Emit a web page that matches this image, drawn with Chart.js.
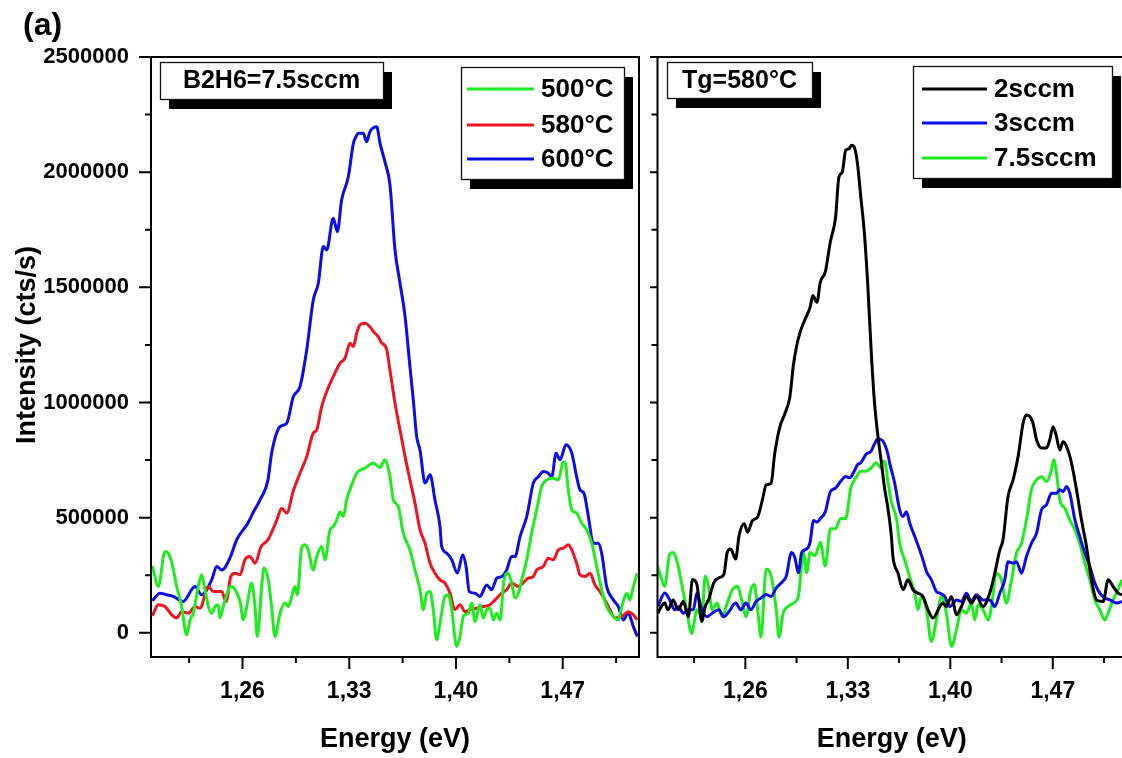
<!DOCTYPE html>
<html lang="en">
<head>
<meta charset="UTF-8">
<title>PL spectra</title>
<script src="https://cdn.jsdelivr.net/npm/chart.js"></script>
<style>
    html, body { margin: 0; padding: 0; background: #fff; overflow: hidden; }
    body { width: 1122px; height: 758px; position: relative; }
    #leftChart { position: absolute; left: 0; top: 0; }
    #rightChart { position: absolute; left: 650px; top: 0; }
</style>
</head>
<body>
<canvas id="leftChart" width="650" height="758"></canvas>
<canvas id="rightChart" width="480" height="758"></canvas>
<script>
// Axis ticks
var xMajor = [1.26, 1.33, 1.40, 1.47];
var xMajorLabels = ['1,26', '1,33', '1,40', '1,47'];
var xMinor = [1.225, 1.295, 1.365, 1.435, 1.505];
var yMajor = [0, 500000, 1000000, 1500000, 2000000, 2500000];
var yMajorLabels = ['0', '500000', '1000000', '1500000', '2000000', '2500000'];
var yMinor = [250000, 750000, 1250000, 1750000, 2250000];

// Left panel: B2H6 = 7.5 sccm, growth temperature series
var e500 = [1.2009,1.2048,1.2092,1.2113,1.2136,1.2169,1.2201,1.2234,1.2256,1.2277,1.231,1.2332,1.2354,1.2376,1.2398,1.242,1.2441,1.2452,1.2474,1.2507,1.2529,1.2551,1.2584,1.2605,1.2628,1.266,1.2682,1.2697,1.2726,1.2741,1.2769,1.2791,1.2813,1.2846,1.2879,1.29,1.2923,1.2944,1.296,1.2988,1.301,1.3031,1.3064,1.3087,1.3119,1.3141,1.3174,1.3195,1.3218,1.3239,1.3261,1.3283,1.3316,1.3349,1.3403,1.3458,1.3502,1.3534,1.3567,1.3589,1.3622,1.3654,1.3698,1.3731,1.3764,1.3786,1.3808,1.383,1.3851,1.3873,1.3895,1.3928,1.395,1.3972,1.4005,1.4026,1.4048,1.4081,1.4103,1.4125,1.4157,1.4179,1.4201,1.4223,1.4245,1.4267,1.4289,1.4315,1.4343,1.4365,1.4387,1.4409,1.4431,1.4464,1.4496,1.4529,1.4562,1.4595,1.4638,1.4671,1.47,1.4715,1.4736,1.4759,1.4791,1.4824,1.4857,1.489,1.4923,1.4955,1.4988,1.5032,1.5064,1.5087,1.512,1.5141,1.5163,1.5189];
var i500 = [291000,201000,353000,346000,306000,200000,114000,-9000,56000,85000,201000,252000,187000,114000,85000,114000,122000,64000,114000,187000,201000,187000,136000,56000,114000,216000,114000,-16000,201000,281000,230000,114000,-16000,85000,129000,114000,158000,201000,165000,369000,382000,360000,273000,331000,375000,317000,447000,461000,490000,526000,505000,577000,642000,693000,715000,737000,718000,751000,678000,577000,548000,433000,360000,273000,187000,100000,172000,179000,100000,-30000,42000,158000,165000,100000,-59000,-16000,71000,85000,129000,49000,122000,64000,100000,107000,56000,85000,56000,230000,259000,216000,151000,172000,230000,317000,433000,534000,635000,664000,671000,664000,737000,743000,621000,534000,520000,476000,447000,389000,288000,187000,114000,71000,56000,114000,172000,143000,201000,259000];

var e580 = [1.2009,1.2048,1.2092,1.2136,1.2169,1.2201,1.2245,1.2289,1.2321,1.2376,1.2409,1.2464,1.2492,1.2523,1.2551,1.2584,1.2616,1.2649,1.2682,1.2721,1.2767,1.2824,1.2857,1.289,1.2933,1.2977,1.3021,1.3064,1.3087,1.3119,1.3152,1.3195,1.3239,1.3272,1.3305,1.3327,1.3349,1.337,1.3403,1.3436,1.3458,1.349,1.3508,1.3546,1.3567,1.36,1.3633,1.3666,1.3698,1.3731,1.3764,1.3797,1.383,1.3862,1.3895,1.3928,1.3961,1.3993,1.4026,1.4059,1.4092,1.4136,1.4179,1.4223,1.4256,1.43,1.4332,1.4365,1.4409,1.4439,1.4474,1.4507,1.4529,1.4572,1.4605,1.4638,1.4671,1.4704,1.4736,1.4759,1.4791,1.4813,1.4846,1.4879,1.4911,1.4944,1.4977,1.501,1.5043,1.5087,1.513,1.5163,1.5189];
var i580 = [74000,122000,114000,78000,65000,92000,85000,114000,107000,201000,179000,179000,136000,244000,259000,252000,317000,331000,302000,373000,404000,488000,541000,520000,616000,693000,765000,867000,881000,982000,1047000,1112000,1170000,1192000,1257000,1243000,1301000,1337000,1344000,1329000,1308000,1286000,1263000,1228000,1141000,997000,881000,765000,664000,563000,447000,389000,302000,259000,230000,216000,172000,100000,122000,92000,100000,107000,114000,122000,143000,172000,187000,216000,201000,216000,237000,244000,273000,288000,324000,317000,360000,368000,382000,360000,302000,252000,244000,259000,208000,179000,143000,100000,64000,71000,92000,78000,56000];

var e600 = [1.2009,1.2059,1.2103,1.2146,1.221,1.2289,1.2332,1.2398,1.2431,1.2464,1.2518,1.2562,1.2636,1.2669,1.2715,1.2767,1.2791,1.2846,1.289,1.2933,1.2977,1.3021,1.3064,1.3097,1.313,1.3152,1.3195,1.3222,1.325,1.3294,1.3327,1.3344,1.3359,1.3392,1.3414,1.3436,1.348,1.3502,1.3534,1.3567,1.36,1.3633,1.3666,1.3698,1.372,1.3742,1.3764,1.3797,1.383,1.3862,1.3895,1.3906,1.3939,1.3972,1.4009,1.4044,1.4066,1.4087,1.4125,1.4157,1.4201,1.4234,1.4267,1.43,1.4332,1.4365,1.4387,1.442,1.4464,1.4507,1.454,1.4572,1.4605,1.4628,1.4656,1.4682,1.4721,1.4759,1.4791,1.4813,1.4839,1.4868,1.49,1.4933,1.4955,1.4988,1.5032,1.5064,1.5097,1.513,1.5163,1.5189];
var i600 = [139000,172000,165000,158000,136000,201000,165000,230000,288000,273000,325000,404000,477000,521000,577000,664000,780000,895000,910000,1025000,1069000,1228000,1445000,1518000,1677000,1662000,1800000,1742000,1879000,1980000,2125000,2154000,2169000,2169000,2132000,2176000,2197000,2125000,2045000,1945000,1662000,1518000,1373000,1156000,1011000,852000,794000,650000,686000,577000,461000,375000,346000,317000,259000,339000,288000,179000,172000,158000,208000,187000,237000,244000,273000,331000,331000,418000,505000,650000,678000,700000,693000,678000,780000,751000,816000,780000,678000,621000,606000,505000,389000,389000,346000,201000,143000,114000,56000,85000,27000,-16000];

// Right panel: Tg = 580 C, B2H6 flow series
var e2 = [1.2003,1.2026,1.2049,1.2072,1.2107,1.2141,1.2176,1.2211,1.2239,1.2269,1.2303,1.2326,1.2349,1.2384,1.2418,1.2453,1.2476,1.25,1.2534,1.2557,1.2592,1.2615,1.2649,1.2684,1.2719,1.2742,1.2776,1.28,1.2835,1.2869,1.2904,1.2927,1.295,1.2973,1.3008,1.3042,1.3061,1.3089,1.3112,1.3146,1.3181,1.3216,1.3239,1.3262,1.3285,1.3308,1.3325,1.3343,1.3366,1.3389,1.3412,1.3435,1.3459,1.3481,1.3504,1.3528,1.3551,1.3574,1.3597,1.3608,1.3643,1.3677,1.3711,1.3745,1.3779,1.3813,1.3848,1.3882,1.3928,1.395,1.3973,1.4008,1.4042,1.4076,1.411,1.4144,1.4178,1.4224,1.4269,1.4304,1.4338,1.436,1.4394,1.4429,1.4463,1.4497,1.452,1.4543,1.4565,1.4589,1.4623,1.4657,1.4679,1.4702,1.4725,1.4748,1.477,1.4794,1.4828,1.4862,1.4896,1.493,1.4964,1.4999,1.5044,1.5078,1.5112,1.5146,1.5172];
var i2 = [85000,114000,129000,100000,143000,100000,136000,70000,232000,210000,48000,114000,144000,217000,239000,253000,349000,364000,320000,422000,474000,437000,488000,503000,584000,642000,650000,775000,892000,950000,1024000,1156000,1244000,1303000,1361000,1413000,1464000,1435000,1523000,1567000,1699000,1802000,1978000,2000000,2095000,2102000,2117000,2110000,2036000,1890000,1743000,1523000,1230000,1009000,862000,745000,628000,540000,422000,331000,259000,187000,230000,187000,172000,158000,100000,64000,114000,129000,114000,158000,78000,114000,158000,129000,158000,114000,172000,259000,360000,404000,592000,664000,765000,910000,946000,939000,910000,838000,802000,802000,838000,895000,852000,794000,830000,809000,737000,621000,490000,375000,230000,143000,136000,230000,201000,172000,165000];

var e3 = [1.2003,1.2049,1.2083,1.2118,1.2144,1.2176,1.2211,1.2245,1.2269,1.2303,1.2338,1.2373,1.2418,1.2453,1.2488,1.2534,1.2569,1.2604,1.2638,1.2673,1.2707,1.2742,1.2776,1.2811,1.2846,1.288,1.2915,1.2938,1.2962,1.2985,1.3019,1.3042,1.3066,1.3089,1.3112,1.3146,1.3181,1.3216,1.325,1.3285,1.3312,1.3343,1.3366,1.3389,1.3424,1.3459,1.3481,1.3504,1.3539,1.3574,1.3586,1.362,1.3654,1.3677,1.37,1.3723,1.3757,1.3791,1.3813,1.3837,1.3871,1.3905,1.3928,1.3962,1.3996,1.4042,1.4076,1.411,1.4144,1.4178,1.4224,1.4269,1.4304,1.4338,1.4372,1.4394,1.4429,1.4452,1.4486,1.452,1.4554,1.4589,1.4623,1.4657,1.4691,1.4725,1.4748,1.477,1.4794,1.4816,1.4851,1.4884,1.4919,1.4953,1.4987,1.5021,1.5055,1.509,1.5135,1.5171];
var i3 = [114000,173000,144000,100000,113000,85000,100000,100000,173000,100000,70000,85000,100000,70000,92000,129000,100000,129000,100000,136000,151000,166000,158000,195000,217000,247000,349000,327000,261000,349000,364000,393000,488000,481000,496000,525000,613000,628000,657000,679000,673000,701000,730000,738000,775000,789000,819000,841000,833000,775000,737000,650000,534000,505000,526000,476000,418000,360000,317000,266000,230000,179000,172000,158000,114000,143000,136000,172000,136000,165000,143000,143000,114000,172000,230000,309000,302000,309000,259000,331000,389000,433000,534000,556000,606000,606000,621000,613000,635000,606000,490000,418000,346000,288000,216000,172000,151000,143000,129000,136000];

var e75 = [1.2,1.2014,1.2049,1.2083,1.2107,1.2141,1.2164,1.2199,1.2234,1.2269,1.2303,1.2326,1.2349,1.2373,1.2407,1.2442,1.2476,1.2511,1.2545,1.258,1.2604,1.2638,1.2661,1.2684,1.2707,1.2742,1.2776,1.2811,1.283,1.2858,1.2892,1.2927,1.2962,1.2997,1.3019,1.3042,1.3077,1.3112,1.3146,1.3181,1.3216,1.325,1.3285,1.332,1.3354,1.3389,1.3424,1.3459,1.3493,1.3528,1.3551,1.3574,1.3597,1.3632,1.3654,1.3688,1.3722,1.3757,1.3779,1.3802,1.3837,1.3871,1.3905,1.3939,1.3973,1.4008,1.4042,1.4076,1.411,1.4144,1.4167,1.4189,1.4224,1.4258,1.4281,1.4315,1.4349,1.4383,1.4418,1.4452,1.4486,1.452,1.4554,1.4589,1.4623,1.4657,1.4691,1.4707,1.4725,1.4748,1.4782,1.4816,1.4851,1.4884,1.4919,1.4953,1.4987,1.5021,1.5055,1.5078,1.5112,1.5146,1.5172];
var i75 = [291000,261000,202000,342000,349000,290000,217000,100000,-3000,100000,70000,247000,202000,100000,129000,70000,129000,187000,202000,129000,70000,187000,210000,100000,-18000,276000,247000,100000,-18000,85000,114000,129000,158000,349000,261000,349000,335000,393000,290000,452000,452000,496000,496000,628000,672000,701000,701000,716000,738000,716000,745000,657000,569000,496000,389000,317000,244000,172000,100000,158000,100000,-38000,56000,158000,85000,-59000,13000,100000,85000,129000,56000,122000,100000,56000,114000,259000,230000,129000,230000,346000,389000,490000,621000,664000,678000,657000,707000,751000,693000,577000,541000,490000,447000,389000,302000,230000,143000,100000,56000,85000,143000,187000,230000];

var FONT = "'Liberation Sans', Arial, Helvetica, sans-serif";
var GREEN = '#1eec1e';
var RED = '#ec1620';
var BLUE = '#0c0ce6';
var BLACK = '#000000';

function points(xs, ys) {
    return xs.map(function (x, k) { return { x: x, y: ys[k] }; });
}

function labelFor(value, values, labels) {
    for (var k = 0; k < values.length; k++) {
        if (Math.abs(values[k] - value) < 1e-6) return labels[k];
    }
    return '';
}

function series(label, color, xs, ys) {
    return {
        label: label,
        data: points(xs, ys),
        borderColor: color,
        backgroundColor: color,
        borderWidth: 3,
        pointRadius: 0,
        cubicInterpolationMode: 'monotone',
        borderJoinStyle: 'round',
        fill: false
    };
}

// plot frame plus outer tick marks (long majors, short minors)
var framePlugin = {
    id: 'frame',
    afterDatasetsDraw: function (chart) {
        var ctx = chart.ctx, a = chart.chartArea;
        var xs = chart.scales.x, ys = chart.scales.y;
        ctx.save();
        ctx.strokeStyle = '#000';
        ctx.lineWidth = 2;
        ctx.strokeRect(a.left, a.top, a.right - a.left, a.bottom - a.top);
        ctx.beginPath();
        xMajor.forEach(function (v) {
            var p = xs.getPixelForValue(v);
            ctx.moveTo(p, a.bottom); ctx.lineTo(p, a.bottom + 12);
        });
        xMinor.forEach(function (v) {
            var p = xs.getPixelForValue(v);
            ctx.moveTo(p, a.bottom); ctx.lineTo(p, a.bottom + 6);
        });
        yMajor.forEach(function (v) {
            var p = ys.getPixelForValue(v);
            ctx.moveTo(a.left, p); ctx.lineTo(a.left - 12, p);
        });
        yMinor.forEach(function (v) {
            var p = ys.getPixelForValue(v);
            ctx.moveTo(a.left, p); ctx.lineTo(a.left - 6, p);
        });
        ctx.stroke();
        ctx.restore();
    }
};

function shadowBox(ctx, x, y, w, h) {
    ctx.fillStyle = '#000';
    ctx.fillRect(x + 9, y + 10, w, h);
    ctx.fillStyle = '#fff';
    ctx.fillRect(x, y, w, h);
    ctx.lineWidth = 1.3;
    ctx.strokeStyle = '#111';
    ctx.strokeRect(x + 0.5, y + 0.5, w, h);
}

// panel tag, y title, note box and legend with drop shadows
var boxPlugin = {
    id: 'boxes',
    afterDraw: function (chart, args, opts) {
        var ctx = chart.ctx;
        ctx.save();
        ctx.fillStyle = '#000';
        if (opts.tag) {
            ctx.font = 'bold 32px ' + FONT;
            ctx.textBaseline = 'middle';
            ctx.textAlign = 'left';
            ctx.fillText(opts.tag, 23, 26);
        }
        if (opts.yTitle) {
            ctx.save();
            ctx.translate(28, 345);
            ctx.rotate(-Math.PI / 2);
            ctx.font = 'bold 27px ' + FONT;
            ctx.textAlign = 'center';
            ctx.textBaseline = 'middle';
            ctx.fillText(opts.yTitle, 0, 0);
            ctx.restore();
        }
        var n = opts.note;
        shadowBox(ctx, n.x, n.y, n.w, n.h);
        ctx.fillStyle = '#000';
        ctx.font = 'bold 25px ' + FONT;
        ctx.textAlign = 'center';
        ctx.textBaseline = 'middle';
        ctx.fillText(n.text, n.x + n.w / 2, n.y + n.h / 2 + 1);

        var L = opts.legend;
        shadowBox(ctx, L.x, L.y, L.w, L.h);
        ctx.font = 'bold 26px ' + FONT;
        ctx.textAlign = 'left';
        chart.data.datasets.forEach(function (ds, k) {
            var ry = L.rows[k];
            ctx.strokeStyle = ds.borderColor;
            ctx.lineWidth = 3;
            ctx.beginPath();
            ctx.moveTo(L.lineX0, ry);
            ctx.lineTo(L.lineX1, ry);
            ctx.stroke();
            ctx.fillStyle = '#000';
            ctx.fillText(ds.label, L.textX, ry + 1);
        });
        ctx.restore();
    }
};

function makeOptions(cfg) {
    return {
        responsive: false,
        animation: false,
        layout: { padding: { top: 57, right: cfg.padRight, bottom: 0, left: 0 } },
        plugins: {
            legend: { display: false },
            tooltip: { enabled: false },
            boxes: cfg.boxes
        },
        scales: {
            x: {
                type: 'linear',
                min: 1.2,
                max: 1.52,
                afterFit: function (s) { s.height = 101; },
                afterBuildTicks: function (s) {
                    s.ticks = xMinor.concat(xMajor).sort().map(function (v) { return { value: v }; });
                },
                grid: { display: false, drawTicks: false },
                border: { display: false },
                ticks: {
                    autoSkip: false,
                    maxRotation: 0,
                    padding: 21,
                    color: '#000',
                    font: { family: FONT, size: 23, weight: 'bold' },
                    callback: function (v) { return labelFor(v, xMajor, xMajorLabels); }
                },
                title: {
                    display: true,
                    text: 'Energy (eV)',
                    color: '#000',
                    font: { family: FONT, size: 27, weight: 'bold' },
                    padding: { top: 0, bottom: 2 }
                }
            },
            y: {
                type: 'linear',
                min: -105000,
                max: 2500000,
                afterFit: function (s) { s.width = cfg.yWidth; },
                afterBuildTicks: function (s) {
                    s.ticks = yMajor.map(function (v) { return { value: v }; });
                },
                grid: { display: false, drawTicks: false },
                border: { display: false },
                ticks: {
                    display: cfg.yLabels,
                    autoSkip: false,
                    padding: 22,
                    color: '#000',
                    font: { family: FONT, size: 22, weight: 'bold' },
                    callback: function (v) { return labelFor(v, yMajor, yMajorLabels); }
                }
            }
        }
    };
}

new Chart(document.getElementById('leftChart'), {
    type: 'line',
    data: {
        datasets: [
            series('500°C', GREEN, e500, i500),
            series('580°C', RED, e580, i580),
            series('600°C', BLUE, e600, i600)
        ]
    },
    options: makeOptions({
        padRight: 11,
        yWidth: 151,
        yLabels: true,
        boxes: {
            tag: '(a)',
            yTitle: 'Intensity (cts/s)',
            note: { text: 'B2H6=7.5sccm', x: 160, y: 62, w: 223, h: 37 },
            legend: { x: 461, y: 67, w: 163, h: 112, rows: [89, 125, 159], lineX0: 467, lineX1: 534, textX: 541 }
        }
    }),
    plugins: [framePlugin, boxPlugin]
});

new Chart(document.getElementById('rightChart'), {
    type: 'line',
    data: {
        datasets: [
            series('2sccm', BLACK, e2, i2),
            series('3sccm', BLUE, e3, i3),
            series('7.5sccm', GREEN, e75, i75)
        ]
    },
    options: makeOptions({
        padRight: 4,
        yWidth: 7.5,
        yLabels: false,
        boxes: {
            note: { text: 'Tg=580°C', x: 17, y: 62, w: 145, h: 36 },
            legend: { x: 263, y: 66, w: 199, h: 112, rows: [89, 123, 158], lineX0: 272, lineX1: 337, textX: 344 }
        }
    }),
    plugins: [framePlugin, boxPlugin]
});
</script>
</body>
</html>
